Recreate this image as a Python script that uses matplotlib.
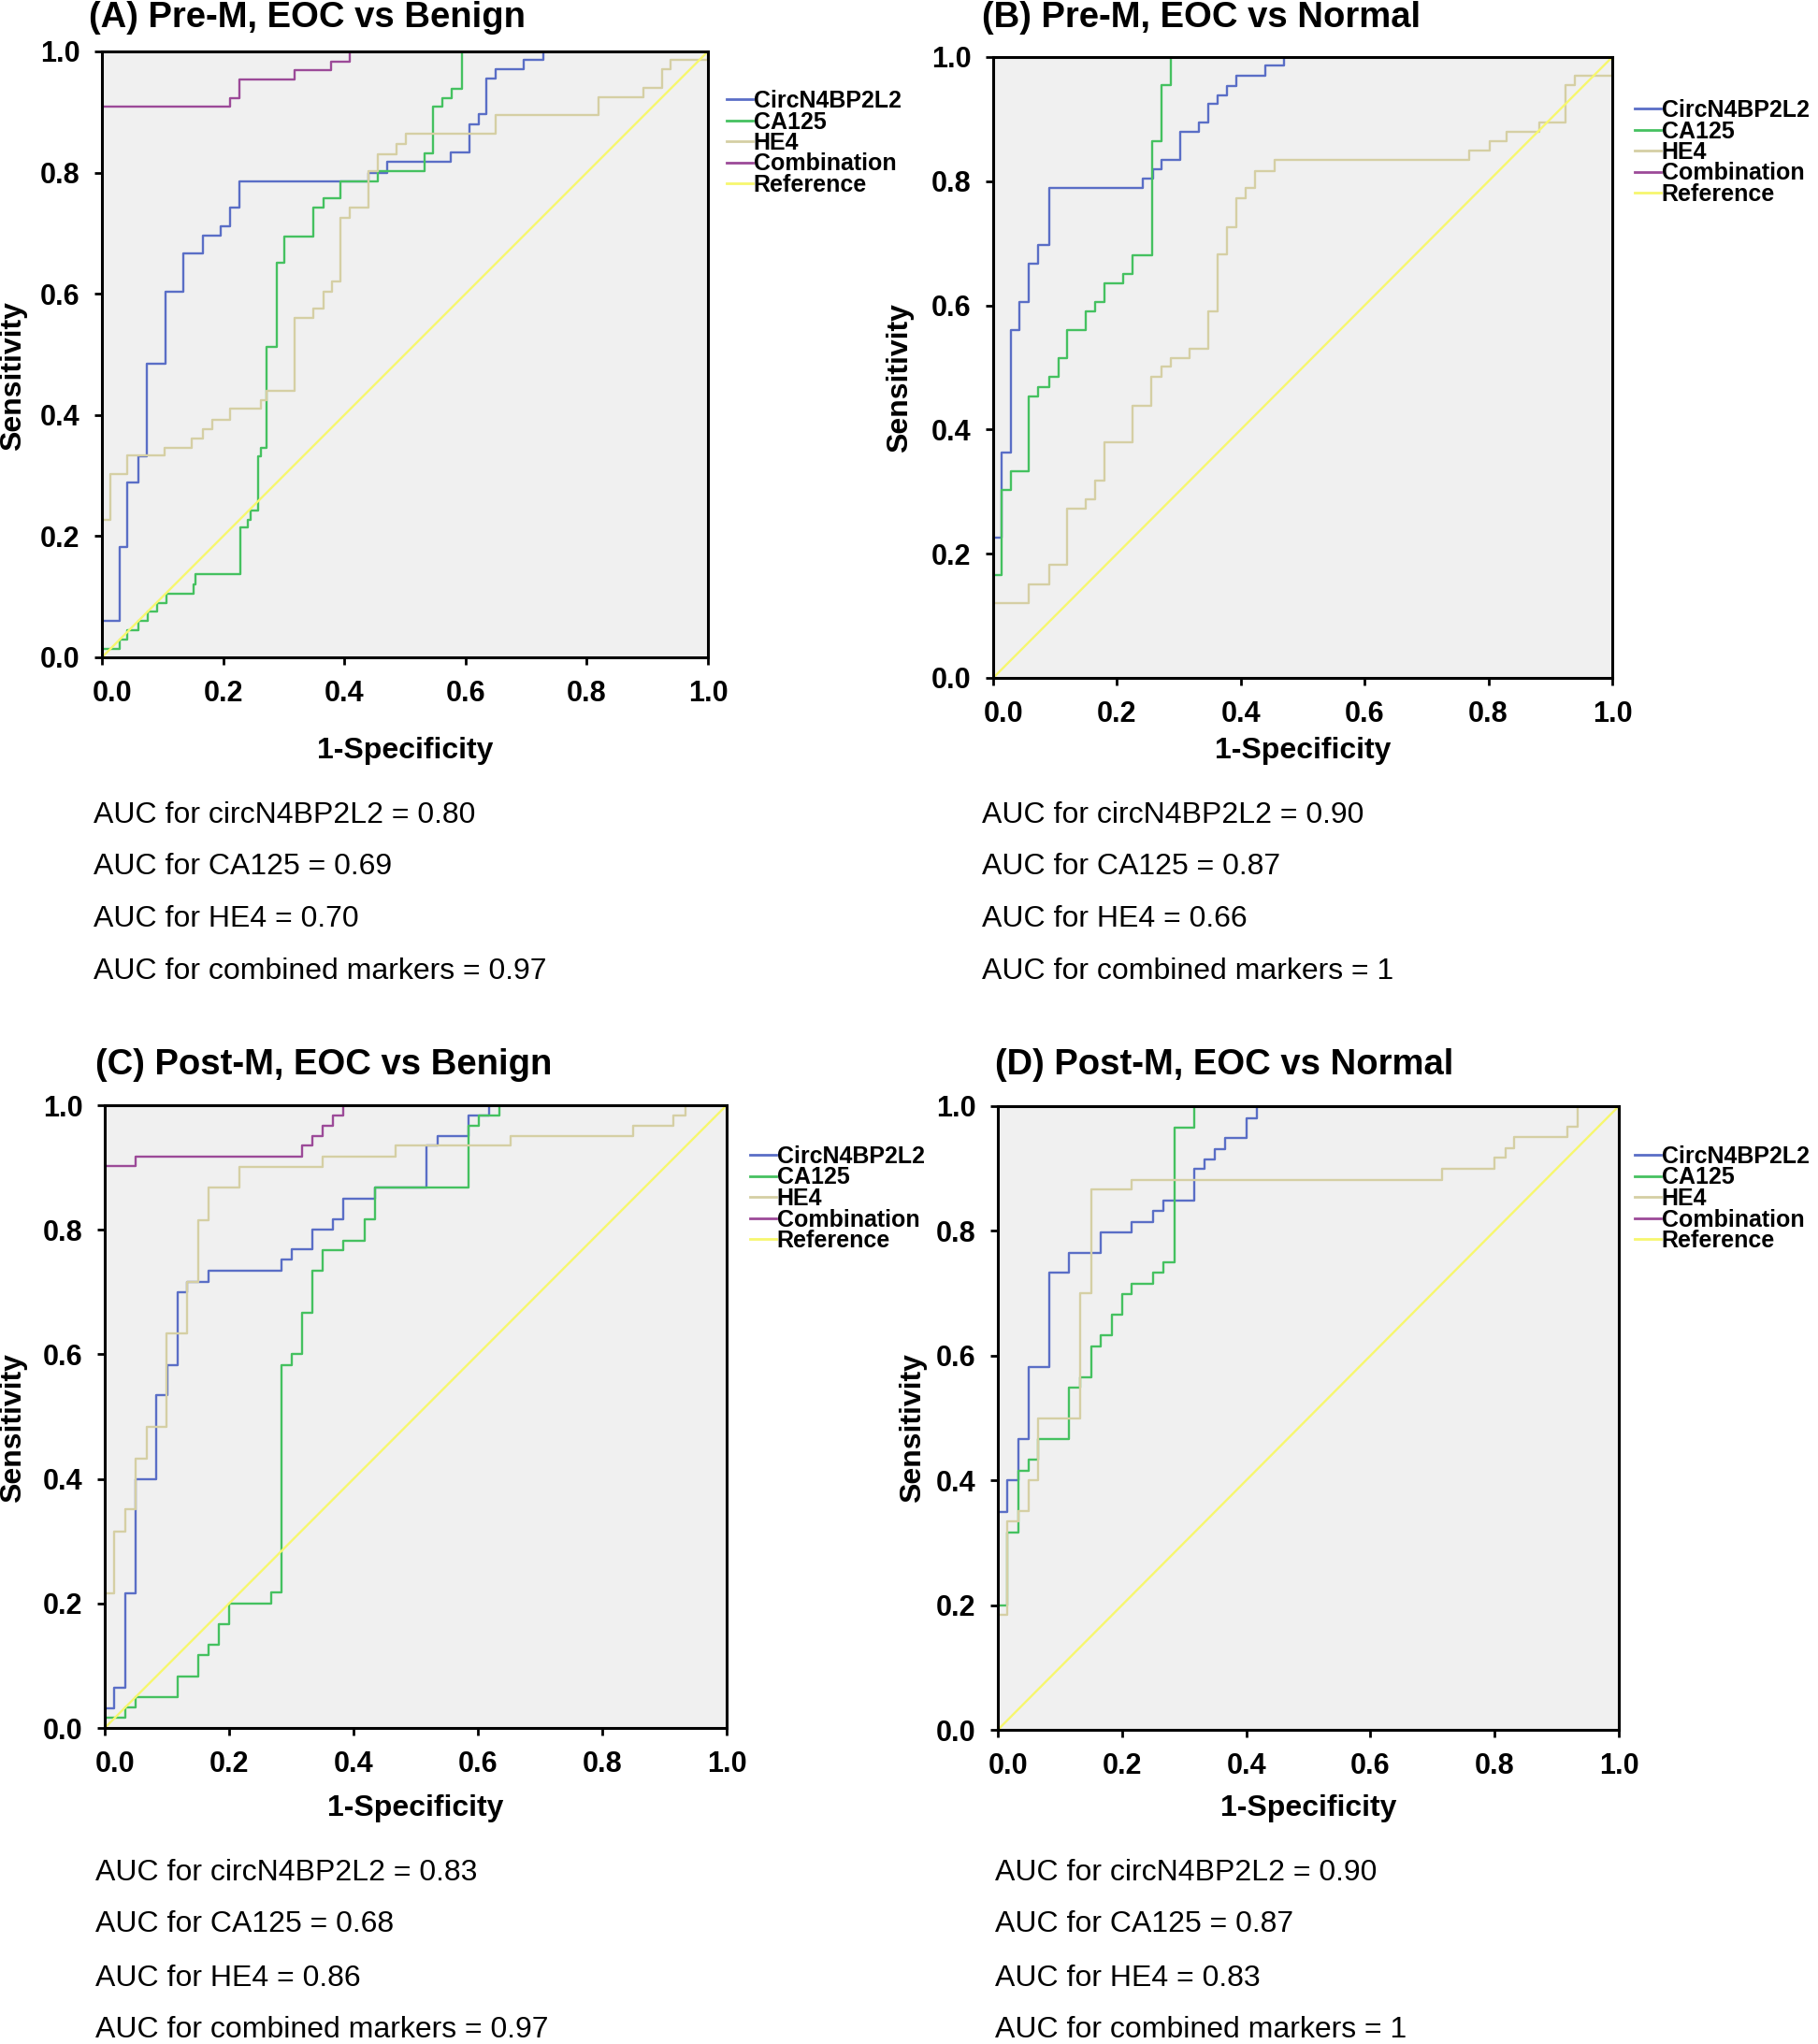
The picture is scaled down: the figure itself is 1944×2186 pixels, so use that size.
import matplotlib
matplotlib.use("Agg")
import matplotlib.pyplot as plt
from matplotlib.transforms import ScaledTranslation

plt.rcParams['font.family'] = ['Liberation Sans', 'DejaVu Sans']

# ---- data (ROC points, step-post order) ----
ref_fpr = [0, 1]
ref_tpr = [0, 1]

# (A) Pre-M, EOC vs Benign
a_circ_fpr = [0, 0, 0.029, 0.042, 0.060, 0.074, 0.105, 0.135, 0.166, 0.196, 0.211, 0.227, 0.44, 0.471, 0.575, 0.606, 0.622, 0.635, 0.650, 0.696, 0.728, 1.0]
a_circ_tpr = [0, 0.06, 0.182, 0.288, 0.332, 0.484, 0.604, 0.666, 0.696, 0.711, 0.742, 0.786, 0.80, 0.818, 0.834, 0.879, 0.896, 0.956, 0.971, 0.986, 1.0, 1.0]
a_ca_fpr = [0, 0, 0.029, 0.042, 0.060, 0.076, 0.091, 0.107, 0.151, 0.154, 0.228, 0.24, 0.245, 0.257, 0.262, 0.272, 0.288, 0.301, 0.349, 0.365, 0.394, 0.455, 0.532, 0.547, 0.561, 0.577, 0.594, 1.0]
a_ca_tpr = [0, 0.014, 0.030, 0.045, 0.06, 0.075, 0.09, 0.105, 0.12, 0.137, 0.214, 0.227, 0.242, 0.332, 0.345, 0.513, 0.651, 0.695, 0.742, 0.757, 0.786, 0.802, 0.832, 0.909, 0.923, 0.939, 1.0, 1.0]
a_he4_fpr = [0, 0, 0.014, 0.042, 0.104, 0.148, 0.166, 0.182, 0.211, 0.262, 0.272, 0.318, 0.349, 0.365, 0.38, 0.394, 0.409, 0.44, 0.455, 0.486, 0.502, 0.65, 0.819, 0.894, 0.925, 0.938, 1.0, 1.0]
a_he4_tpr = [0, 0.227, 0.303, 0.333, 0.346, 0.361, 0.377, 0.392, 0.41, 0.425, 0.44, 0.56, 0.575, 0.604, 0.62, 0.726, 0.742, 0.802, 0.831, 0.847, 0.864, 0.895, 0.925, 0.94, 0.971, 0.986, 0.986, 1.0]
a_comb_fpr = [0, 0, 0.211, 0.227, 0.318, 0.378, 0.409, 1.0]
a_comb_tpr = [0, 0.909, 0.923, 0.953, 0.969, 0.983, 1.0, 1.0]

# (B) Pre-M, EOC vs Normal
b_circ_fpr = [0, 0, 0.013, 0.028, 0.043, 0.058, 0.073, 0.09, 0.242, 0.258, 0.272, 0.302, 0.332, 0.348, 0.363, 0.378, 0.392, 0.439, 0.47, 1.0]
b_circ_tpr = [0, 0.226, 0.363, 0.56, 0.606, 0.667, 0.697, 0.789, 0.804, 0.819, 0.834, 0.88, 0.894, 0.925, 0.939, 0.953, 0.97, 0.986, 1.0, 1.0]
b_ca_fpr = [0, 0, 0.013, 0.028, 0.058, 0.073, 0.09, 0.105, 0.12, 0.15, 0.165, 0.18, 0.21, 0.225, 0.257, 0.272, 0.287, 1.0]
b_ca_tpr = [0, 0.166, 0.302, 0.333, 0.453, 0.469, 0.485, 0.515, 0.56, 0.591, 0.606, 0.636, 0.651, 0.681, 0.864, 0.955, 1.0, 1.0]
b_he4_fpr = [0, 0, 0.058, 0.09, 0.12, 0.15, 0.165, 0.18, 0.225, 0.256, 0.272, 0.287, 0.317, 0.348, 0.363, 0.378, 0.392, 0.408, 0.423, 0.454, 0.769, 0.802, 0.83, 0.882, 0.925, 0.939, 1.0, 1.0]
b_he4_tpr = [0, 0.121, 0.151, 0.182, 0.272, 0.288, 0.318, 0.379, 0.439, 0.485, 0.501, 0.515, 0.53, 0.591, 0.682, 0.726, 0.773, 0.789, 0.817, 0.834, 0.85, 0.865, 0.88, 0.895, 0.955, 0.97, 0.97, 1.0]
b_comb_fpr = [0, 0, 1.0]
b_comb_tpr = [0, 1.0, 1.0]

# (C) Post-M, EOC vs Benign
c_circ_fpr = [0, 0, 0.015, 0.033, 0.05, 0.05, 0.083, 0.10, 0.117, 0.132, 0.167, 0.284, 0.30, 0.334, 0.367, 0.384, 0.434, 0.518, 0.535, 0.585, 0.618, 1.0]
c_circ_tpr = [0, 0.032, 0.065, 0.216, 0.234, 0.40, 0.534, 0.582, 0.70, 0.716, 0.734, 0.752, 0.769, 0.80, 0.817, 0.85, 0.868, 0.935, 0.951, 0.984, 1.0, 1.0]
c_ca_fpr = [0, 0, 0.033, 0.05, 0.117, 0.15, 0.167, 0.184, 0.2, 0.267, 0.284, 0.30, 0.317, 0.334, 0.35, 0.384, 0.418, 0.434, 0.585, 0.602, 0.635, 1.0]
c_ca_tpr = [0, 0.017, 0.033, 0.05, 0.083, 0.117, 0.133, 0.167, 0.20, 0.217, 0.583, 0.60, 0.667, 0.734, 0.767, 0.783, 0.817, 0.868, 0.967, 0.984, 1.0, 1.0]
c_he4_fpr = [0, 0, 0.015, 0.033, 0.05, 0.067, 0.099, 0.133, 0.15, 0.167, 0.217, 0.35, 0.468, 0.652, 0.85, 0.915, 0.934, 1.0]
c_he4_tpr = [0, 0.216, 0.315, 0.351, 0.433, 0.484, 0.633, 0.716, 0.816, 0.868, 0.901, 0.918, 0.935, 0.951, 0.967, 0.983, 1.0, 1.0]
c_comb_fpr = [0, 0, 0.05, 0.317, 0.334, 0.35, 0.367, 0.384, 1.0]
c_comb_tpr = [0, 0.902, 0.918, 0.935, 0.951, 0.967, 0.984, 1.0, 1.0]

# (D) Post-M, EOC vs Normal
d_circ_fpr = [0, 0, 0.015, 0.033, 0.049, 0.083, 0.115, 0.166, 0.216, 0.25, 0.266, 0.316, 0.333, 0.35, 0.366, 0.40, 0.417, 1.0]
d_circ_tpr = [0, 0.35, 0.40, 0.466, 0.582, 0.733, 0.765, 0.797, 0.814, 0.832, 0.848, 0.899, 0.915, 0.931, 0.949, 0.981, 1.0, 1.0]
d_ca_fpr = [0, 0, 0.015, 0.033, 0.049, 0.065, 0.115, 0.133, 0.15, 0.166, 0.183, 0.20, 0.216, 0.25, 0.266, 0.284, 0.317, 1.0]
d_ca_tpr = [0, 0.20, 0.317, 0.416, 0.434, 0.466, 0.549, 0.565, 0.615, 0.632, 0.666, 0.699, 0.715, 0.733, 0.749, 0.965, 1.0, 1.0]
d_he4_fpr = [0, 0, 0.015, 0.033, 0.049, 0.065, 0.133, 0.15, 0.216, 0.716, 0.799, 0.818, 0.832, 0.917, 0.934, 1.0]
d_he4_tpr = [0, 0.184, 0.335, 0.351, 0.40, 0.50, 0.70, 0.866, 0.882, 0.90, 0.917, 0.933, 0.95, 0.967, 1.0, 1.0]
d_comb_fpr = [0, 0, 1.0]
d_comb_tpr = [0, 1.0, 1.0]

titles = ["(A) Pre-M, EOC vs Benign", "(B) Pre-M, EOC vs Normal",
          "(C) Post-M, EOC vs Benign", "(D) Post-M, EOC vs Normal"]
auc_circ = ["0.80", "0.90", "0.83", "0.90"]
auc_ca125 = ["0.69", "0.87", "0.68", "0.87"]
auc_he4 = ["0.70", "0.66", "0.86", "0.83"]
auc_comb = ["0.97", "1", "0.97", "1"]

series_names = ["CircN4BP2L2", "CA125", "HE4", "Combination", "Reference"]
series_colors = ["#5a6ec6", "#45c160", "#d5cfa4", "#9c4a98", "#f7f76e"]
tick_vals = [0.0, 0.2, 0.4, 0.6, 0.8, 1.0]
tick_labels = ["0.0", "0.2", "0.4", "0.6", "0.8", "1.0"]

panels = [
    [(a_circ_fpr, a_circ_tpr), (a_ca_fpr, a_ca_tpr), (a_he4_fpr, a_he4_tpr), (a_comb_fpr, a_comb_tpr)],
    [(b_circ_fpr, b_circ_tpr), (b_ca_fpr, b_ca_tpr), (b_he4_fpr, b_he4_tpr), (b_comb_fpr, b_comb_tpr)],
    [(c_circ_fpr, c_circ_tpr), (c_ca_fpr, c_ca_tpr), (c_he4_fpr, c_he4_tpr), (c_comb_fpr, c_comb_tpr)],
    [(d_circ_fpr, d_circ_tpr), (d_ca_fpr, d_ca_tpr), (d_he4_fpr, d_he4_tpr), (d_comb_fpr, d_comb_tpr)],
]

# ---- layout (pixel boxes in the 1944 x 2186 image) ----
W, H = 1944, 2186
fig = plt.figure(figsize=(W / 100, H / 100), dpi=100)

# left, top, right, bottom of each plot area
boxes = [(109, 55, 757, 703), (1062, 61, 1724, 725), (112, 1182, 777, 1848), (1067, 1183, 1731, 1850)]
title_pos = [(95, 19), (1050, 19), (102, 1139), (1064, 1139)]
xlabel_y = [803, 803, 1934, 1934]
ylabel_pos = [(14, 402), (962, 404), (14, 1527), (976, 1527)]
legend_pos = [(777, 96), (1748, 106), (802, 1225), (1748, 1225)]
auc_x = [100, 1050, 102, 1064]
auc_y = [[872, 927, 983, 1039], [872, 927, 983, 1039], [2003, 2058, 2116, 2171], [2003, 2058, 2116, 2171]]

for i in range(4):
    l, t, r, b = boxes[i]
    ax = fig.add_axes([l / W, 1 - b / H, (r - l) / W, (b - t) / H])
    ax.set_facecolor("#f0f0f0")

    for (fpr, tpr), name, col in zip(panels[i], series_names[:4], series_colors[:4]):
        ax.step(fpr, tpr, where="post", color=col, lw=1.7, label=name)
    ax.plot(ref_fpr, ref_tpr, color=series_colors[4], lw=1.7, label=series_names[4])

    ax.set_xlim(0, 1)
    ax.set_ylim(0, 1)
    ax.set_xticks(tick_vals)
    ax.set_yticks(tick_vals)
    ax.set_xticklabels(tick_labels, fontsize=22, fontweight="bold")
    ax.set_yticklabels(tick_labels, fontsize=22, fontweight="bold")
    ax.tick_params(direction="out", length=6, width=2, pad=11)
    # first x label sits a little to the right of its tick, as in the original
    first = ax.get_xticklabels()[0]
    first.set_transform(first.get_transform() + ScaledTranslation(11 / 100, 0, fig.dpi_scale_trans))
    for sp in ax.spines.values():
        sp.set_linewidth(2.2)
        sp.set_zorder(5)

    ax.set_xlabel("1-Specificity", fontsize=23, fontweight="bold")
    ax.xaxis.label.set_va("center")
    ax.xaxis.set_label_coords(0.5, (b - xlabel_y[i]) / (b - t))
    ax.set_ylabel("Sensitivity", fontsize=23, fontweight="bold")
    ax.yaxis.label.set_va("center")
    yx, yy = ylabel_pos[i]
    ax.yaxis.set_label_coords((yx - l) / (r - l), (b - yy) / (b - t))

    lx, ly = legend_pos[i]
    leg = ax.legend(loc="upper left", bbox_to_anchor=(lx / W, 1 - ly / H),
                    bbox_transform=fig.transFigure, frameon=False,
                    prop={"weight": "bold", "size": 18}, labelspacing=-0.06,
                    handlelength=1.1, handletextpad=0.05, borderpad=0, borderaxespad=0)
    for ln in leg.get_lines():
        ln.set_linewidth(2)

    fig.text(title_pos[i][0] / W, 1 - title_pos[i][1] / H, titles[i],
             fontsize=27.5, fontweight="bold", va="center", ha="left")

    lines = ["AUC for circN4BP2L2 = " + auc_circ[i],
             "AUC for CA125 = " + auc_ca125[i],
             "AUC for HE4 = " + auc_he4[i],
             "AUC for combined markers = " + auc_comb[i]]
    for txt, yy in zip(lines, auc_y[i]):
        fig.text(auc_x[i] / W, 1 - yy / H, txt, fontsize=23, va="center", ha="left")

fig.savefig("out.png", dpi=100, facecolor="white")
